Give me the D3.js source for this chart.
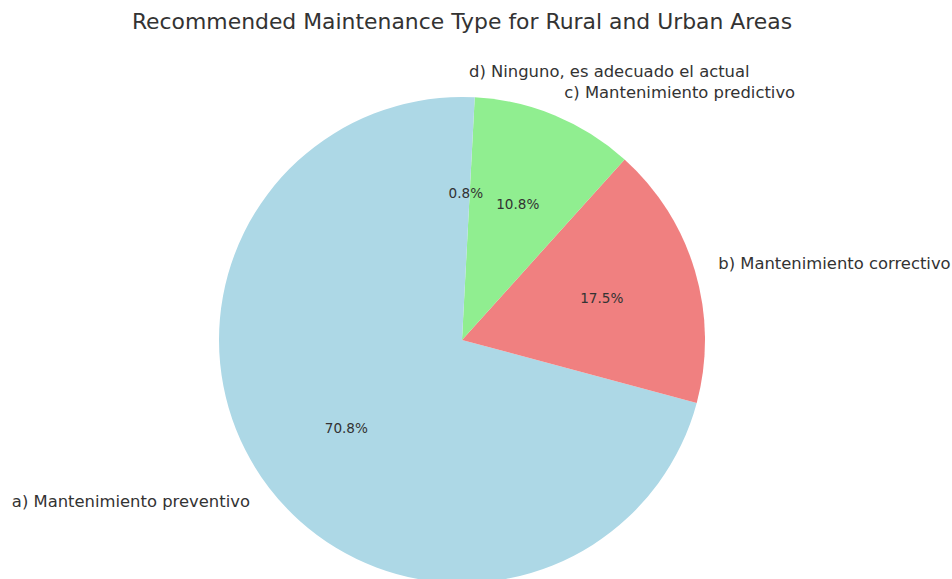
<!DOCTYPE html>
<html>
<head>
<meta charset="utf-8">
<script src="https://cdn.jsdelivr.net/npm/d3@7"></script>
<style>
  body { margin: 0; background: #fff; }
  text { font-family: "DejaVu Sans", sans-serif; fill: #333; }
</style>
</head>
<body>
<script>
// Data
const categories = [
    "a) Mantenimiento preventivo",
    "b) Mantenimiento correctivo",
    "c) Mantenimiento predictivo",
    "d) Ninguno, es adecuado el actual"
];
const counts = [85, 21, 13, 1];
const colors = ["lightblue", "lightcoral", "lightgreen", "lightblue"];

const width = 952, height = 579;
const cx = 462, cy = 340, radius = 243;

const svg = d3.select("body")
    .append("svg")
    .attr("width", width)
    .attr("height", height);

// Title
svg.append("text")
    .attr("x", cx)
    .attr("y", 21)
    .attr("text-anchor", "middle")
    .attr("dominant-baseline", "central")
    .style("font-size", "21.9px")
    .text("Recommended Maintenance Type for Rural and Urban Areas");

const data = categories.map((c, i) => ({ label: c, value: counts[i], color: colors[i] }));
const total = d3.sum(counts);

// counterclockwise from the top, like matplotlib startangle=90
const pie = d3.pie()
    .value(d => d.value)
    .sort(null)
    .startAngle(0)
    .endAngle(-2 * Math.PI);

const arcs = pie(data);
const arc = d3.arc().innerRadius(0).outerRadius(radius);

const g = svg.append("g")
    .attr("transform", `translate(${cx},${cy})`);

g.selectAll("path")
    .data(arcs)
    .join("path")
    .attr("d", arc)
    .attr("fill", d => d.data.color);

// Category labels at 1.1 r
const labelR = radius * 1.1;
g.selectAll("text.label")
    .data(arcs)
    .join("text")
    .attr("class", "label")
    .each(function (d) {
        const a = (d.startAngle + d.endAngle) / 2;
        const x = labelR * Math.sin(a), y = -labelR * Math.cos(a);
        d3.select(this)
            .attr("x", x)
            .attr("y", y - 1)
            .attr("text-anchor", x > 0 ? "start" : "end");
    })
    .attr("dominant-baseline", "central")
    .style("font-size", "16.4px")
    .text(d => d.data.label);

// Percentage labels at 0.6 r
const pctR = radius * 0.6;
g.selectAll("text.pct")
    .data(arcs)
    .join("text")
    .attr("class", "pct")
    .attr("x", d => pctR * Math.sin((d.startAngle + d.endAngle) / 2))
    .attr("y", d => -pctR * Math.cos((d.startAngle + d.endAngle) / 2) - 1)
    .attr("text-anchor", "middle")
    .attr("dominant-baseline", "central")
    .style("font-size", "13.6px")
    .text(d => (d.data.value / total * 100).toFixed(1) + "%");
</script>
</body>
</html>
